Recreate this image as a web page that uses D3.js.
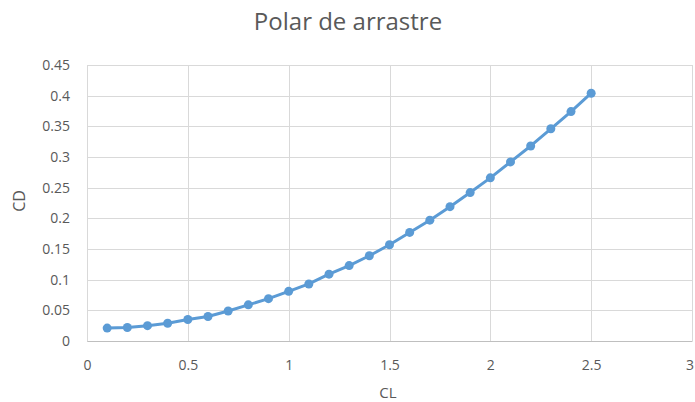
<!DOCTYPE html>
<html>
<head>
<meta charset="utf-8">
<script src="https://cdn.jsdelivr.net/npm/d3@7"></script>
<style>
  html, body { margin: 0; padding: 0; background: #fff; }
  svg { display: block; font-family: "Open Sans", "Liberation Sans", sans-serif; }
</style>
</head>
<body>
<svg id="chart" width="695" height="402"></svg>
<script>
// Drag polar: drag coefficient against lift coefficient
const cl = [0.1, 0.2, 0.3, 0.4, 0.5, 0.6, 0.7, 0.8, 0.9, 1.0, 1.1, 1.2, 1.3,
            1.4, 1.5, 1.6, 1.7, 1.8, 1.9, 2.0, 2.1, 2.2, 2.3, 2.4, 2.5];
const cd = [0.021, 0.022, 0.025, 0.029, 0.035, 0.040, 0.049, 0.059, 0.069, 0.081,
            0.093, 0.109, 0.123, 0.139, 0.157, 0.177, 0.197, 0.219, 0.242, 0.266,
            0.292, 0.318, 0.346, 0.374, 0.404];
const xTicks = [0, 0.5, 1, 1.5, 2, 2.5, 3];
const yTicks = [0, 0.05, 0.1, 0.15, 0.2, 0.25, 0.3, 0.35, 0.4, 0.45];

const title = "Polar de arrastre";
const xTitle = "CL";
const yTitle = "CD";

const width = 695;
const svg = d3.select("#chart");
const plot = { left: 87, right: 692, top: 65, bottom: 341 };

const x = d3.scaleLinear().domain([0, 3]).range([plot.left, plot.right]);
const y = d3.scaleLinear().domain([0, 0.45]).range([plot.bottom, plot.top]);

const textColor = "#595959";
const gridColor = "#d9d9d9";
const seriesColor = "#5b9bd5";

// grid lines
svg.append("g")
  .selectAll("line")
  .data(yTicks)
  .join("line")
  .attr("x1", plot.left).attr("x2", plot.right)
  .attr("y1", d => Math.round(y(d)) + 0.5).attr("y2", d => Math.round(y(d)) + 0.5)
  .attr("stroke", gridColor).attr("stroke-width", 1);

svg.append("g")
  .selectAll("line")
  .data(xTicks)
  .join("line")
  .attr("y1", plot.top).attr("y2", plot.bottom)
  .attr("x1", d => Math.round(x(d)) + 0.5).attr("x2", d => Math.round(x(d)) + 0.5)
  .attr("stroke", gridColor).attr("stroke-width", 1);

// axes (labels only, Excel-style)
const xAxis = svg.append("g")
  .attr("transform", `translate(0,${plot.bottom})`)
  .call(d3.axisBottom(x).tickValues(xTicks).tickSize(0).tickPadding(19).tickFormat(d3.format("~g")));
xAxis.select(".domain").attr("stroke", "#bfbfbf");
xAxis.selectAll("text").attr("fill", textColor).style("font-size", "14px")
  .style("font-family", "\"Open Sans\", sans-serif");
// keep the last label inside the canvas
xAxis.selectAll(".tick text").each(function () {
  const b = this.getBBox();
  const tx = +d3.select(this.parentNode).attr("transform").match(/translate\(([-\d.]+)/)[1];
  const overflow = tx + b.x + b.width - (width - 1);
  if (overflow > 0) d3.select(this).attr("x", -overflow);
});

const yAxis = svg.append("g")
  .attr("transform", `translate(${plot.left},0)`)
  .call(d3.axisLeft(y).tickValues(yTicks).tickSize(0).tickPadding(17).tickFormat(d3.format("~g")));
yAxis.select(".domain").remove();
yAxis.selectAll("text").attr("fill", textColor).style("font-size", "14px")
  .style("font-family", "\"Open Sans\", sans-serif");

// series line and markers
const line = d3.line().x((d, i) => x(cl[i])).y(d => y(d));
svg.append("path")
  .datum(cd)
  .attr("d", line)
  .attr("fill", "none")
  .attr("stroke", seriesColor)
  .attr("stroke-width", 3)
  .attr("stroke-linejoin", "round");

svg.append("g")
  .selectAll("circle")
  .data(cd)
  .join("circle")
  .attr("cx", (d, i) => x(cl[i]))
  .attr("cy", d => y(d))
  .attr("r", 4.5)
  .attr("fill", seriesColor);

// titles
svg.append("text")
  .attr("x", 348).attr("y", 30)
  .attr("text-anchor", "middle")
  .attr("fill", textColor)
  .style("font-size", "24px")
  .text(title);

svg.append("text")
  .attr("x", 388).attr("y", 398)
  .attr("text-anchor", "middle")
  .attr("fill", textColor)
  .style("font-size", "15px")
  .text(xTitle);

svg.append("text")
  .attr("transform", "translate(24.5,201) rotate(-90)")
  .attr("text-anchor", "middle")
  .attr("fill", textColor)
  .style("font-size", "16px")
  .text(yTitle);
</script>
</body>
</html>
